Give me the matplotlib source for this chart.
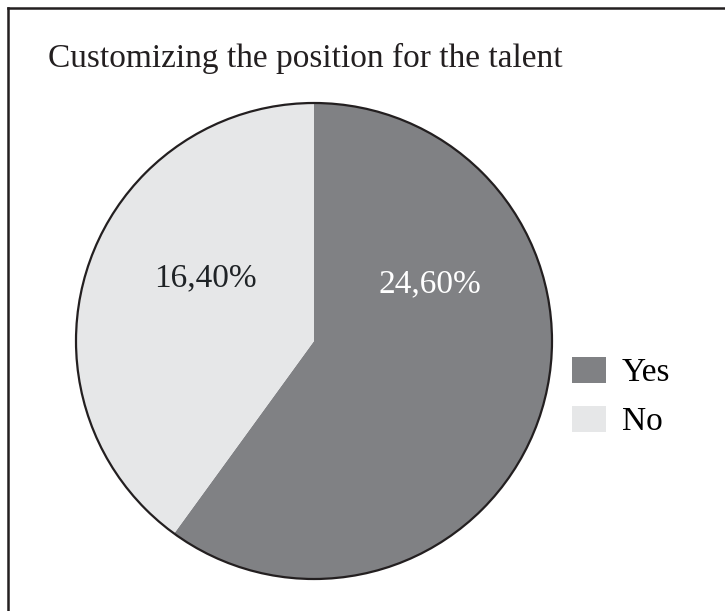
import matplotlib.pyplot as plt
from matplotlib.lines import Line2D
from matplotlib.patches import Circle

plt.rcParams["font.family"] = ["Liberation Serif", "DejaVu Serif"]

title = "Customizing the position for the talent"
categories = ["Yes", "No"]
values = [24.60, 16.40]
colors = ["#808184", "#E6E7E8"]
label_colors = ["white", "#1f2326"]
# label anchor points inside the unit pie
label_pos = [(0.485, 0.24), (-0.456, 0.266)]

W, H = 725, 611
fs = 24
fig = plt.figure(figsize=(W / 100, H / 100), dpi=100)

# pie centred at (314, 341) px with radius 238 px
cx, cy, r = 314, 341, 238
ax = fig.add_axes([(cx - r) / W, (H - cy - r) / H, 2 * r / W, 2 * r / H])
wedges, _ = ax.pie(values, colors=colors, startangle=90, counterclock=False,
                   wedgeprops=dict(linewidth=0))
ax.set_xlim(-1, 1)
ax.set_ylim(-1, 1)
ax.add_patch(Circle((0, 0), 1, fill=False, edgecolor="#231F20",
                    linewidth=1.6, clip_on=False))

for v, (x, y), c in zip(values, label_pos, label_colors):
    ax.text(x, y, f"{v:.2f}%".replace(".", ","), ha="center", va="center",
            fontsize=fs, color=c)

legend = fig.legend(wedges, categories, loc="center left",
                    bbox_to_anchor=(542 / W, 1 - 397 / H), frameon=False,
                    fontsize=fs, handlelength=1.02, handleheight=0.82,
                    handletextpad=0.48, labelspacing=0.53)

fig.text(48 / W, 1 - 67 / H, title, fontsize=fs, ha="left", va="baseline",
         color="#231F20")

# frame round the chart: only the left and top edges fall inside the image
frame_kw = dict(color="#231F20", linewidth=1.8, transform=fig.transFigure)
fig.add_artist(Line2D([8 / W, 8 / W], [0, 1 - 8 / H], **frame_kw))
fig.add_artist(Line2D([8 / W, 1], [1 - 8 / H, 1 - 8 / H], **frame_kw))

fig.savefig("out.png", dpi=100)
